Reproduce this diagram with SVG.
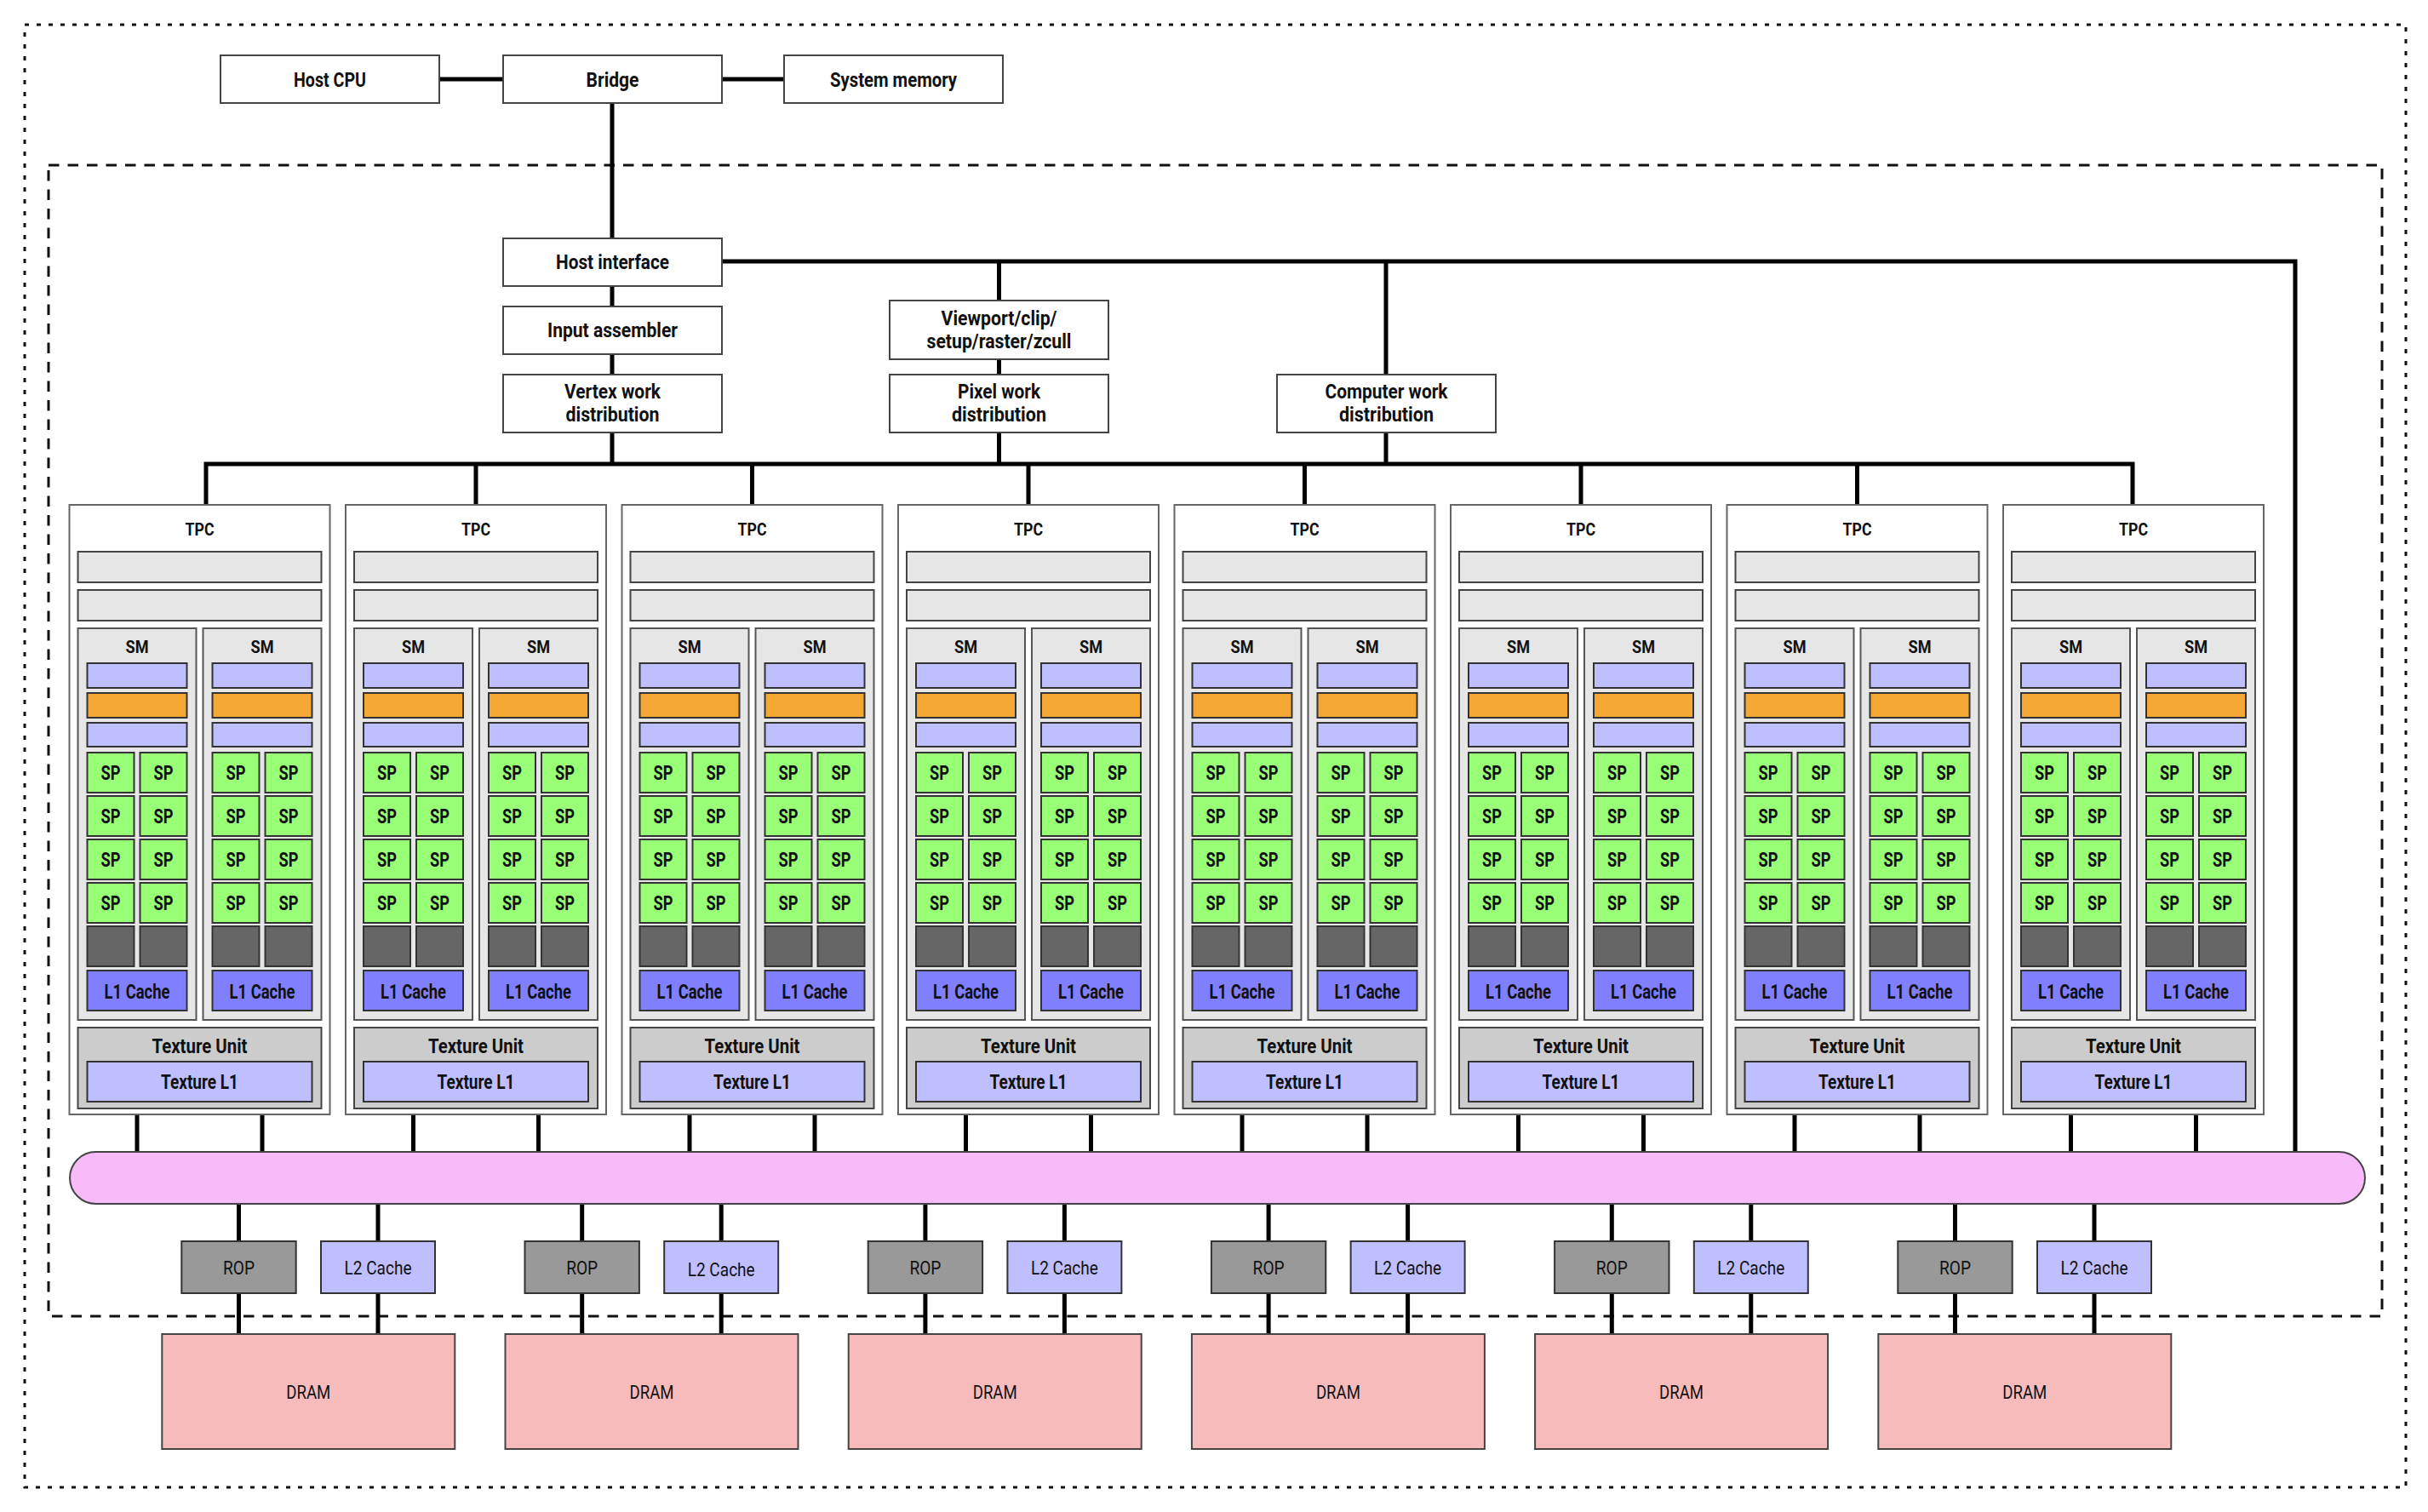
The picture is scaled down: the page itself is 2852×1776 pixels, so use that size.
<svg xmlns="http://www.w3.org/2000/svg" width="2852" height="1776" viewBox="0 0 2852 1776">
<style>
text{font-family:Roboto,"Liberation Sans",sans-serif;text-anchor:middle;fill:#111;font-weight:700}
.t20{font-size:20px}
.t23{font-size:23px}
.t22{font-size:22px;font-weight:400}
.box{fill:#fff;stroke:#444;stroke-width:2}
.tpcbox{fill:#fff;stroke:#666;stroke-width:2}
.bar{fill:#e6e6e6;stroke:#444;stroke-width:2}
.sm{fill:#e6e6e6;stroke:#555;stroke-width:2}
.lav{fill:#bfbfff;stroke:#333;stroke-width:2}
.org{fill:#f5a733;stroke:#333;stroke-width:2}
.sp{fill:#99ff77;stroke:#333;stroke-width:2}
.dk{fill:#666;stroke:#333;stroke-width:2}
.l1{fill:#8080ff;stroke:#333;stroke-width:2}
.tex{fill:#ccc;stroke:#444;stroke-width:2}
.rop{fill:#999;stroke:#333;stroke-width:2}
.dram{fill:#f8bbbb;stroke:#444;stroke-width:2}
.xbar{fill:#f8bbf9;stroke:#444;stroke-width:2}
.con{fill:none;stroke:#000;stroke-width:5;stroke-linejoin:miter}
.outer{fill:none;stroke:#111;stroke-width:3;stroke-dasharray:5 9}
.inner{fill:none;stroke:#111;stroke-width:3;stroke-dasharray:12.5 10}
</style>
<rect width="2852" height="1776" fill="#fff"/>
<rect id="system-boundary" class="outer" x="29" y="29" width="2797" height="1718"/>
<rect id="gpu-boundary" class="inner" x="57" y="194" width="2741" height="1352"/>

<g id="connectors">
<path class="con" d="M516 93H591M848 93H921"/>
<path class="con" d="M719 121V280M719 336V360M719 416V440M719 508V545"/>
<path class="con" d="M848 307H2696V1353"/>
<path class="con" d="M1173.5 307V353M1173.5 422V440M1173.5 508V545"/>
<path class="con" d="M1628 307V440M1628 508V545"/>
<path class="con" d="M242 593V545H2505V593"/>
<path class="con" d="M559 545V593M883.5 545V593M1208 545V593M1532.5 545V593M1857 545V593M2181.5 545V593"/>
<path class="con" d="M161 1309V1353M308 1309V1353M485.5 1309V1353M632.5 1309V1353M810 1309V1353M957 1309V1353M1134.5 1309V1353M1281.5 1309V1353M1459 1309V1353M1606 1309V1353M1783.5 1309V1353M1930.5 1309V1353M2108 1309V1353M2255 1309V1353M2432.5 1309V1353M2579.5 1309V1353"/>
<path class="con" d="M280.5 1414V1567M444 1414V1567M683.7 1414V1567M847.2 1414V1567M1086.9 1414V1567M1250.4 1414V1567M1490.1 1414V1567M1653.6 1414V1567M1893.3 1414V1567M2056.8 1414V1567M2296.5 1414V1567M2460 1414V1567"/>
</g>

<g id="host-cpu"><rect class="box" x="259" y="65" width="257" height="56"/><text class="t23" x="387.5" y="102" textLength="85" lengthAdjust="spacingAndGlyphs">Host CPU</text></g>
<g id="bridge"><rect class="box" x="591" y="65" width="257" height="56"/><text class="t23" x="719.5" y="102" textLength="62" lengthAdjust="spacingAndGlyphs">Bridge</text></g>
<g id="system-memory"><rect class="box" x="921" y="65" width="257" height="56"/><text class="t23" x="1049.5" y="102" textLength="149" lengthAdjust="spacingAndGlyphs">System memory</text></g>
<g id="host-interface"><rect class="box" x="591" y="280" width="257" height="56"/><text class="t23" x="719.5" y="316" textLength="133" lengthAdjust="spacingAndGlyphs">Host interface</text></g>
<g id="input-assembler"><rect class="box" x="591" y="360" width="257" height="56"/><text class="t23" x="719.5" y="396" textLength="153" lengthAdjust="spacingAndGlyphs">Input assembler</text></g>
<g id="vertex-work"><rect class="box" x="591" y="440" width="257" height="68"/><text class="t23" x="719.5" y="468" textLength="113" lengthAdjust="spacingAndGlyphs">Vertex work</text><text class="t23" x="719.5" y="495" textLength="110" lengthAdjust="spacingAndGlyphs">distribution</text></g>
<g id="viewport"><rect class="box" x="1045" y="353" width="257" height="69"/><text class="t23" x="1173.5" y="382" textLength="136" lengthAdjust="spacingAndGlyphs">Viewport/clip/</text><text class="t23" x="1173.5" y="409" textLength="170" lengthAdjust="spacingAndGlyphs">setup/raster/zcull</text></g>
<g id="pixel-work"><rect class="box" x="1045" y="440" width="257" height="68"/><text class="t23" x="1173.5" y="468" textLength="97" lengthAdjust="spacingAndGlyphs">Pixel work</text><text class="t23" x="1173.5" y="495" textLength="111" lengthAdjust="spacingAndGlyphs">distribution</text></g>
<g id="compute-work"><rect class="box" x="1500" y="440" width="257" height="68"/><text class="t23" x="1628.5" y="468" textLength="144" lengthAdjust="spacingAndGlyphs">Computer work</text><text class="t23" x="1628.5" y="495" textLength="111" lengthAdjust="spacingAndGlyphs">distribution</text></g>

<g id="tpc1" transform="translate(81.5 0)">
<rect class="tpcbox" x="0" y="593" width="306" height="716"/>
<text class="t20" x="153" y="628.5" textLength="34" lengthAdjust="spacingAndGlyphs">TPC</text>
<rect class="bar" x="10" y="648" width="286" height="36"/><rect class="bar" x="10" y="693" width="286" height="36"/>
<g id="tpc1-sm1" transform="translate(10 0)">
<rect class="sm" x="0" y="738" width="139" height="460"/><text class="t20" x="69.5" y="767" textLength="27" lengthAdjust="spacingAndGlyphs">SM</text>
<rect class="lav" x="11" y="779" width="117" height="29"/><rect class="org" x="11" y="814" width="117" height="29"/><rect class="lav" x="11" y="849" width="117" height="28"/>
<rect class="sp" x="11" y="884" width="55" height="47"/><rect class="sp" x="73" y="884" width="55" height="47"/><rect class="sp" x="11" y="935" width="55" height="47"/><rect class="sp" x="73" y="935" width="55" height="47"/><rect class="sp" x="11" y="986" width="55" height="47"/><rect class="sp" x="73" y="986" width="55" height="47"/><rect class="sp" x="11" y="1037" width="55" height="47"/><rect class="sp" x="73" y="1037" width="55" height="47"/>
<text class="t23" x="38.5" y="915.5" textLength="23" lengthAdjust="spacingAndGlyphs">SP</text><text class="t23" x="100.5" y="915.5" textLength="23" lengthAdjust="spacingAndGlyphs">SP</text><text class="t23" x="38.5" y="966.5" textLength="23" lengthAdjust="spacingAndGlyphs">SP</text><text class="t23" x="100.5" y="966.5" textLength="23" lengthAdjust="spacingAndGlyphs">SP</text><text class="t23" x="38.5" y="1017.5" textLength="23" lengthAdjust="spacingAndGlyphs">SP</text><text class="t23" x="100.5" y="1017.5" textLength="23" lengthAdjust="spacingAndGlyphs">SP</text><text class="t23" x="38.5" y="1068.5" textLength="23" lengthAdjust="spacingAndGlyphs">SP</text><text class="t23" x="100.5" y="1068.5" textLength="23" lengthAdjust="spacingAndGlyphs">SP</text>
<rect class="dk" x="11" y="1088" width="55" height="47"/><rect class="dk" x="73" y="1088" width="55" height="47"/>
<rect class="l1" x="11" y="1140" width="117" height="47"/><text class="t23" x="69.5" y="1172.5" textLength="77" lengthAdjust="spacingAndGlyphs">L1 Cache</text>
</g>
<g id="tpc1-sm2" transform="translate(157 0)">
<rect class="sm" x="0" y="738" width="139" height="460"/><text class="t20" x="69.5" y="767" textLength="27" lengthAdjust="spacingAndGlyphs">SM</text>
<rect class="lav" x="11" y="779" width="117" height="29"/><rect class="org" x="11" y="814" width="117" height="29"/><rect class="lav" x="11" y="849" width="117" height="28"/>
<rect class="sp" x="11" y="884" width="55" height="47"/><rect class="sp" x="73" y="884" width="55" height="47"/><rect class="sp" x="11" y="935" width="55" height="47"/><rect class="sp" x="73" y="935" width="55" height="47"/><rect class="sp" x="11" y="986" width="55" height="47"/><rect class="sp" x="73" y="986" width="55" height="47"/><rect class="sp" x="11" y="1037" width="55" height="47"/><rect class="sp" x="73" y="1037" width="55" height="47"/>
<text class="t23" x="38.5" y="915.5" textLength="23" lengthAdjust="spacingAndGlyphs">SP</text><text class="t23" x="100.5" y="915.5" textLength="23" lengthAdjust="spacingAndGlyphs">SP</text><text class="t23" x="38.5" y="966.5" textLength="23" lengthAdjust="spacingAndGlyphs">SP</text><text class="t23" x="100.5" y="966.5" textLength="23" lengthAdjust="spacingAndGlyphs">SP</text><text class="t23" x="38.5" y="1017.5" textLength="23" lengthAdjust="spacingAndGlyphs">SP</text><text class="t23" x="100.5" y="1017.5" textLength="23" lengthAdjust="spacingAndGlyphs">SP</text><text class="t23" x="38.5" y="1068.5" textLength="23" lengthAdjust="spacingAndGlyphs">SP</text><text class="t23" x="100.5" y="1068.5" textLength="23" lengthAdjust="spacingAndGlyphs">SP</text>
<rect class="dk" x="11" y="1088" width="55" height="47"/><rect class="dk" x="73" y="1088" width="55" height="47"/>
<rect class="l1" x="11" y="1140" width="117" height="47"/><text class="t23" x="69.5" y="1172.5" textLength="77" lengthAdjust="spacingAndGlyphs">L1 Cache</text>
</g>
<rect class="tex" x="10" y="1207" width="286" height="95"/><text class="t23" x="153" y="1237" textLength="112" lengthAdjust="spacingAndGlyphs">Texture Unit</text>
<rect class="lav" x="21" y="1247" width="264" height="47"/><text class="t23" x="153" y="1278.5" textLength="91" lengthAdjust="spacingAndGlyphs">Texture L1</text>
</g>

<g id="tpc2" transform="translate(406 0)">
<rect class="tpcbox" x="0" y="593" width="306" height="716"/>
<text class="t20" x="153" y="628.5" textLength="34" lengthAdjust="spacingAndGlyphs">TPC</text>
<rect class="bar" x="10" y="648" width="286" height="36"/><rect class="bar" x="10" y="693" width="286" height="36"/>
<g id="tpc2-sm1" transform="translate(10 0)">
<rect class="sm" x="0" y="738" width="139" height="460"/><text class="t20" x="69.5" y="767" textLength="27" lengthAdjust="spacingAndGlyphs">SM</text>
<rect class="lav" x="11" y="779" width="117" height="29"/><rect class="org" x="11" y="814" width="117" height="29"/><rect class="lav" x="11" y="849" width="117" height="28"/>
<rect class="sp" x="11" y="884" width="55" height="47"/><rect class="sp" x="73" y="884" width="55" height="47"/><rect class="sp" x="11" y="935" width="55" height="47"/><rect class="sp" x="73" y="935" width="55" height="47"/><rect class="sp" x="11" y="986" width="55" height="47"/><rect class="sp" x="73" y="986" width="55" height="47"/><rect class="sp" x="11" y="1037" width="55" height="47"/><rect class="sp" x="73" y="1037" width="55" height="47"/>
<text class="t23" x="38.5" y="915.5" textLength="23" lengthAdjust="spacingAndGlyphs">SP</text><text class="t23" x="100.5" y="915.5" textLength="23" lengthAdjust="spacingAndGlyphs">SP</text><text class="t23" x="38.5" y="966.5" textLength="23" lengthAdjust="spacingAndGlyphs">SP</text><text class="t23" x="100.5" y="966.5" textLength="23" lengthAdjust="spacingAndGlyphs">SP</text><text class="t23" x="38.5" y="1017.5" textLength="23" lengthAdjust="spacingAndGlyphs">SP</text><text class="t23" x="100.5" y="1017.5" textLength="23" lengthAdjust="spacingAndGlyphs">SP</text><text class="t23" x="38.5" y="1068.5" textLength="23" lengthAdjust="spacingAndGlyphs">SP</text><text class="t23" x="100.5" y="1068.5" textLength="23" lengthAdjust="spacingAndGlyphs">SP</text>
<rect class="dk" x="11" y="1088" width="55" height="47"/><rect class="dk" x="73" y="1088" width="55" height="47"/>
<rect class="l1" x="11" y="1140" width="117" height="47"/><text class="t23" x="69.5" y="1172.5" textLength="77" lengthAdjust="spacingAndGlyphs">L1 Cache</text>
</g>
<g id="tpc2-sm2" transform="translate(157 0)">
<rect class="sm" x="0" y="738" width="139" height="460"/><text class="t20" x="69.5" y="767" textLength="27" lengthAdjust="spacingAndGlyphs">SM</text>
<rect class="lav" x="11" y="779" width="117" height="29"/><rect class="org" x="11" y="814" width="117" height="29"/><rect class="lav" x="11" y="849" width="117" height="28"/>
<rect class="sp" x="11" y="884" width="55" height="47"/><rect class="sp" x="73" y="884" width="55" height="47"/><rect class="sp" x="11" y="935" width="55" height="47"/><rect class="sp" x="73" y="935" width="55" height="47"/><rect class="sp" x="11" y="986" width="55" height="47"/><rect class="sp" x="73" y="986" width="55" height="47"/><rect class="sp" x="11" y="1037" width="55" height="47"/><rect class="sp" x="73" y="1037" width="55" height="47"/>
<text class="t23" x="38.5" y="915.5" textLength="23" lengthAdjust="spacingAndGlyphs">SP</text><text class="t23" x="100.5" y="915.5" textLength="23" lengthAdjust="spacingAndGlyphs">SP</text><text class="t23" x="38.5" y="966.5" textLength="23" lengthAdjust="spacingAndGlyphs">SP</text><text class="t23" x="100.5" y="966.5" textLength="23" lengthAdjust="spacingAndGlyphs">SP</text><text class="t23" x="38.5" y="1017.5" textLength="23" lengthAdjust="spacingAndGlyphs">SP</text><text class="t23" x="100.5" y="1017.5" textLength="23" lengthAdjust="spacingAndGlyphs">SP</text><text class="t23" x="38.5" y="1068.5" textLength="23" lengthAdjust="spacingAndGlyphs">SP</text><text class="t23" x="100.5" y="1068.5" textLength="23" lengthAdjust="spacingAndGlyphs">SP</text>
<rect class="dk" x="11" y="1088" width="55" height="47"/><rect class="dk" x="73" y="1088" width="55" height="47"/>
<rect class="l1" x="11" y="1140" width="117" height="47"/><text class="t23" x="69.5" y="1172.5" textLength="77" lengthAdjust="spacingAndGlyphs">L1 Cache</text>
</g>
<rect class="tex" x="10" y="1207" width="286" height="95"/><text class="t23" x="153" y="1237" textLength="112" lengthAdjust="spacingAndGlyphs">Texture Unit</text>
<rect class="lav" x="21" y="1247" width="264" height="47"/><text class="t23" x="153" y="1278.5" textLength="91" lengthAdjust="spacingAndGlyphs">Texture L1</text>
</g>

<g id="tpc3" transform="translate(730.5 0)">
<rect class="tpcbox" x="0" y="593" width="306" height="716"/>
<text class="t20" x="153" y="628.5" textLength="34" lengthAdjust="spacingAndGlyphs">TPC</text>
<rect class="bar" x="10" y="648" width="286" height="36"/><rect class="bar" x="10" y="693" width="286" height="36"/>
<g id="tpc3-sm1" transform="translate(10 0)">
<rect class="sm" x="0" y="738" width="139" height="460"/><text class="t20" x="69.5" y="767" textLength="27" lengthAdjust="spacingAndGlyphs">SM</text>
<rect class="lav" x="11" y="779" width="117" height="29"/><rect class="org" x="11" y="814" width="117" height="29"/><rect class="lav" x="11" y="849" width="117" height="28"/>
<rect class="sp" x="11" y="884" width="55" height="47"/><rect class="sp" x="73" y="884" width="55" height="47"/><rect class="sp" x="11" y="935" width="55" height="47"/><rect class="sp" x="73" y="935" width="55" height="47"/><rect class="sp" x="11" y="986" width="55" height="47"/><rect class="sp" x="73" y="986" width="55" height="47"/><rect class="sp" x="11" y="1037" width="55" height="47"/><rect class="sp" x="73" y="1037" width="55" height="47"/>
<text class="t23" x="38.5" y="915.5" textLength="23" lengthAdjust="spacingAndGlyphs">SP</text><text class="t23" x="100.5" y="915.5" textLength="23" lengthAdjust="spacingAndGlyphs">SP</text><text class="t23" x="38.5" y="966.5" textLength="23" lengthAdjust="spacingAndGlyphs">SP</text><text class="t23" x="100.5" y="966.5" textLength="23" lengthAdjust="spacingAndGlyphs">SP</text><text class="t23" x="38.5" y="1017.5" textLength="23" lengthAdjust="spacingAndGlyphs">SP</text><text class="t23" x="100.5" y="1017.5" textLength="23" lengthAdjust="spacingAndGlyphs">SP</text><text class="t23" x="38.5" y="1068.5" textLength="23" lengthAdjust="spacingAndGlyphs">SP</text><text class="t23" x="100.5" y="1068.5" textLength="23" lengthAdjust="spacingAndGlyphs">SP</text>
<rect class="dk" x="11" y="1088" width="55" height="47"/><rect class="dk" x="73" y="1088" width="55" height="47"/>
<rect class="l1" x="11" y="1140" width="117" height="47"/><text class="t23" x="69.5" y="1172.5" textLength="77" lengthAdjust="spacingAndGlyphs">L1 Cache</text>
</g>
<g id="tpc3-sm2" transform="translate(157 0)">
<rect class="sm" x="0" y="738" width="139" height="460"/><text class="t20" x="69.5" y="767" textLength="27" lengthAdjust="spacingAndGlyphs">SM</text>
<rect class="lav" x="11" y="779" width="117" height="29"/><rect class="org" x="11" y="814" width="117" height="29"/><rect class="lav" x="11" y="849" width="117" height="28"/>
<rect class="sp" x="11" y="884" width="55" height="47"/><rect class="sp" x="73" y="884" width="55" height="47"/><rect class="sp" x="11" y="935" width="55" height="47"/><rect class="sp" x="73" y="935" width="55" height="47"/><rect class="sp" x="11" y="986" width="55" height="47"/><rect class="sp" x="73" y="986" width="55" height="47"/><rect class="sp" x="11" y="1037" width="55" height="47"/><rect class="sp" x="73" y="1037" width="55" height="47"/>
<text class="t23" x="38.5" y="915.5" textLength="23" lengthAdjust="spacingAndGlyphs">SP</text><text class="t23" x="100.5" y="915.5" textLength="23" lengthAdjust="spacingAndGlyphs">SP</text><text class="t23" x="38.5" y="966.5" textLength="23" lengthAdjust="spacingAndGlyphs">SP</text><text class="t23" x="100.5" y="966.5" textLength="23" lengthAdjust="spacingAndGlyphs">SP</text><text class="t23" x="38.5" y="1017.5" textLength="23" lengthAdjust="spacingAndGlyphs">SP</text><text class="t23" x="100.5" y="1017.5" textLength="23" lengthAdjust="spacingAndGlyphs">SP</text><text class="t23" x="38.5" y="1068.5" textLength="23" lengthAdjust="spacingAndGlyphs">SP</text><text class="t23" x="100.5" y="1068.5" textLength="23" lengthAdjust="spacingAndGlyphs">SP</text>
<rect class="dk" x="11" y="1088" width="55" height="47"/><rect class="dk" x="73" y="1088" width="55" height="47"/>
<rect class="l1" x="11" y="1140" width="117" height="47"/><text class="t23" x="69.5" y="1172.5" textLength="77" lengthAdjust="spacingAndGlyphs">L1 Cache</text>
</g>
<rect class="tex" x="10" y="1207" width="286" height="95"/><text class="t23" x="153" y="1237" textLength="112" lengthAdjust="spacingAndGlyphs">Texture Unit</text>
<rect class="lav" x="21" y="1247" width="264" height="47"/><text class="t23" x="153" y="1278.5" textLength="91" lengthAdjust="spacingAndGlyphs">Texture L1</text>
</g>

<g id="tpc4" transform="translate(1055 0)">
<rect class="tpcbox" x="0" y="593" width="306" height="716"/>
<text class="t20" x="153" y="628.5" textLength="34" lengthAdjust="spacingAndGlyphs">TPC</text>
<rect class="bar" x="10" y="648" width="286" height="36"/><rect class="bar" x="10" y="693" width="286" height="36"/>
<g id="tpc4-sm1" transform="translate(10 0)">
<rect class="sm" x="0" y="738" width="139" height="460"/><text class="t20" x="69.5" y="767" textLength="27" lengthAdjust="spacingAndGlyphs">SM</text>
<rect class="lav" x="11" y="779" width="117" height="29"/><rect class="org" x="11" y="814" width="117" height="29"/><rect class="lav" x="11" y="849" width="117" height="28"/>
<rect class="sp" x="11" y="884" width="55" height="47"/><rect class="sp" x="73" y="884" width="55" height="47"/><rect class="sp" x="11" y="935" width="55" height="47"/><rect class="sp" x="73" y="935" width="55" height="47"/><rect class="sp" x="11" y="986" width="55" height="47"/><rect class="sp" x="73" y="986" width="55" height="47"/><rect class="sp" x="11" y="1037" width="55" height="47"/><rect class="sp" x="73" y="1037" width="55" height="47"/>
<text class="t23" x="38.5" y="915.5" textLength="23" lengthAdjust="spacingAndGlyphs">SP</text><text class="t23" x="100.5" y="915.5" textLength="23" lengthAdjust="spacingAndGlyphs">SP</text><text class="t23" x="38.5" y="966.5" textLength="23" lengthAdjust="spacingAndGlyphs">SP</text><text class="t23" x="100.5" y="966.5" textLength="23" lengthAdjust="spacingAndGlyphs">SP</text><text class="t23" x="38.5" y="1017.5" textLength="23" lengthAdjust="spacingAndGlyphs">SP</text><text class="t23" x="100.5" y="1017.5" textLength="23" lengthAdjust="spacingAndGlyphs">SP</text><text class="t23" x="38.5" y="1068.5" textLength="23" lengthAdjust="spacingAndGlyphs">SP</text><text class="t23" x="100.5" y="1068.5" textLength="23" lengthAdjust="spacingAndGlyphs">SP</text>
<rect class="dk" x="11" y="1088" width="55" height="47"/><rect class="dk" x="73" y="1088" width="55" height="47"/>
<rect class="l1" x="11" y="1140" width="117" height="47"/><text class="t23" x="69.5" y="1172.5" textLength="77" lengthAdjust="spacingAndGlyphs">L1 Cache</text>
</g>
<g id="tpc4-sm2" transform="translate(157 0)">
<rect class="sm" x="0" y="738" width="139" height="460"/><text class="t20" x="69.5" y="767" textLength="27" lengthAdjust="spacingAndGlyphs">SM</text>
<rect class="lav" x="11" y="779" width="117" height="29"/><rect class="org" x="11" y="814" width="117" height="29"/><rect class="lav" x="11" y="849" width="117" height="28"/>
<rect class="sp" x="11" y="884" width="55" height="47"/><rect class="sp" x="73" y="884" width="55" height="47"/><rect class="sp" x="11" y="935" width="55" height="47"/><rect class="sp" x="73" y="935" width="55" height="47"/><rect class="sp" x="11" y="986" width="55" height="47"/><rect class="sp" x="73" y="986" width="55" height="47"/><rect class="sp" x="11" y="1037" width="55" height="47"/><rect class="sp" x="73" y="1037" width="55" height="47"/>
<text class="t23" x="38.5" y="915.5" textLength="23" lengthAdjust="spacingAndGlyphs">SP</text><text class="t23" x="100.5" y="915.5" textLength="23" lengthAdjust="spacingAndGlyphs">SP</text><text class="t23" x="38.5" y="966.5" textLength="23" lengthAdjust="spacingAndGlyphs">SP</text><text class="t23" x="100.5" y="966.5" textLength="23" lengthAdjust="spacingAndGlyphs">SP</text><text class="t23" x="38.5" y="1017.5" textLength="23" lengthAdjust="spacingAndGlyphs">SP</text><text class="t23" x="100.5" y="1017.5" textLength="23" lengthAdjust="spacingAndGlyphs">SP</text><text class="t23" x="38.5" y="1068.5" textLength="23" lengthAdjust="spacingAndGlyphs">SP</text><text class="t23" x="100.5" y="1068.5" textLength="23" lengthAdjust="spacingAndGlyphs">SP</text>
<rect class="dk" x="11" y="1088" width="55" height="47"/><rect class="dk" x="73" y="1088" width="55" height="47"/>
<rect class="l1" x="11" y="1140" width="117" height="47"/><text class="t23" x="69.5" y="1172.5" textLength="77" lengthAdjust="spacingAndGlyphs">L1 Cache</text>
</g>
<rect class="tex" x="10" y="1207" width="286" height="95"/><text class="t23" x="153" y="1237" textLength="112" lengthAdjust="spacingAndGlyphs">Texture Unit</text>
<rect class="lav" x="21" y="1247" width="264" height="47"/><text class="t23" x="153" y="1278.5" textLength="91" lengthAdjust="spacingAndGlyphs">Texture L1</text>
</g>

<g id="tpc5" transform="translate(1379.5 0)">
<rect class="tpcbox" x="0" y="593" width="306" height="716"/>
<text class="t20" x="153" y="628.5" textLength="34" lengthAdjust="spacingAndGlyphs">TPC</text>
<rect class="bar" x="10" y="648" width="286" height="36"/><rect class="bar" x="10" y="693" width="286" height="36"/>
<g id="tpc5-sm1" transform="translate(10 0)">
<rect class="sm" x="0" y="738" width="139" height="460"/><text class="t20" x="69.5" y="767" textLength="27" lengthAdjust="spacingAndGlyphs">SM</text>
<rect class="lav" x="11" y="779" width="117" height="29"/><rect class="org" x="11" y="814" width="117" height="29"/><rect class="lav" x="11" y="849" width="117" height="28"/>
<rect class="sp" x="11" y="884" width="55" height="47"/><rect class="sp" x="73" y="884" width="55" height="47"/><rect class="sp" x="11" y="935" width="55" height="47"/><rect class="sp" x="73" y="935" width="55" height="47"/><rect class="sp" x="11" y="986" width="55" height="47"/><rect class="sp" x="73" y="986" width="55" height="47"/><rect class="sp" x="11" y="1037" width="55" height="47"/><rect class="sp" x="73" y="1037" width="55" height="47"/>
<text class="t23" x="38.5" y="915.5" textLength="23" lengthAdjust="spacingAndGlyphs">SP</text><text class="t23" x="100.5" y="915.5" textLength="23" lengthAdjust="spacingAndGlyphs">SP</text><text class="t23" x="38.5" y="966.5" textLength="23" lengthAdjust="spacingAndGlyphs">SP</text><text class="t23" x="100.5" y="966.5" textLength="23" lengthAdjust="spacingAndGlyphs">SP</text><text class="t23" x="38.5" y="1017.5" textLength="23" lengthAdjust="spacingAndGlyphs">SP</text><text class="t23" x="100.5" y="1017.5" textLength="23" lengthAdjust="spacingAndGlyphs">SP</text><text class="t23" x="38.5" y="1068.5" textLength="23" lengthAdjust="spacingAndGlyphs">SP</text><text class="t23" x="100.5" y="1068.5" textLength="23" lengthAdjust="spacingAndGlyphs">SP</text>
<rect class="dk" x="11" y="1088" width="55" height="47"/><rect class="dk" x="73" y="1088" width="55" height="47"/>
<rect class="l1" x="11" y="1140" width="117" height="47"/><text class="t23" x="69.5" y="1172.5" textLength="77" lengthAdjust="spacingAndGlyphs">L1 Cache</text>
</g>
<g id="tpc5-sm2" transform="translate(157 0)">
<rect class="sm" x="0" y="738" width="139" height="460"/><text class="t20" x="69.5" y="767" textLength="27" lengthAdjust="spacingAndGlyphs">SM</text>
<rect class="lav" x="11" y="779" width="117" height="29"/><rect class="org" x="11" y="814" width="117" height="29"/><rect class="lav" x="11" y="849" width="117" height="28"/>
<rect class="sp" x="11" y="884" width="55" height="47"/><rect class="sp" x="73" y="884" width="55" height="47"/><rect class="sp" x="11" y="935" width="55" height="47"/><rect class="sp" x="73" y="935" width="55" height="47"/><rect class="sp" x="11" y="986" width="55" height="47"/><rect class="sp" x="73" y="986" width="55" height="47"/><rect class="sp" x="11" y="1037" width="55" height="47"/><rect class="sp" x="73" y="1037" width="55" height="47"/>
<text class="t23" x="38.5" y="915.5" textLength="23" lengthAdjust="spacingAndGlyphs">SP</text><text class="t23" x="100.5" y="915.5" textLength="23" lengthAdjust="spacingAndGlyphs">SP</text><text class="t23" x="38.5" y="966.5" textLength="23" lengthAdjust="spacingAndGlyphs">SP</text><text class="t23" x="100.5" y="966.5" textLength="23" lengthAdjust="spacingAndGlyphs">SP</text><text class="t23" x="38.5" y="1017.5" textLength="23" lengthAdjust="spacingAndGlyphs">SP</text><text class="t23" x="100.5" y="1017.5" textLength="23" lengthAdjust="spacingAndGlyphs">SP</text><text class="t23" x="38.5" y="1068.5" textLength="23" lengthAdjust="spacingAndGlyphs">SP</text><text class="t23" x="100.5" y="1068.5" textLength="23" lengthAdjust="spacingAndGlyphs">SP</text>
<rect class="dk" x="11" y="1088" width="55" height="47"/><rect class="dk" x="73" y="1088" width="55" height="47"/>
<rect class="l1" x="11" y="1140" width="117" height="47"/><text class="t23" x="69.5" y="1172.5" textLength="77" lengthAdjust="spacingAndGlyphs">L1 Cache</text>
</g>
<rect class="tex" x="10" y="1207" width="286" height="95"/><text class="t23" x="153" y="1237" textLength="112" lengthAdjust="spacingAndGlyphs">Texture Unit</text>
<rect class="lav" x="21" y="1247" width="264" height="47"/><text class="t23" x="153" y="1278.5" textLength="91" lengthAdjust="spacingAndGlyphs">Texture L1</text>
</g>

<g id="tpc6" transform="translate(1704 0)">
<rect class="tpcbox" x="0" y="593" width="306" height="716"/>
<text class="t20" x="153" y="628.5" textLength="34" lengthAdjust="spacingAndGlyphs">TPC</text>
<rect class="bar" x="10" y="648" width="286" height="36"/><rect class="bar" x="10" y="693" width="286" height="36"/>
<g id="tpc6-sm1" transform="translate(10 0)">
<rect class="sm" x="0" y="738" width="139" height="460"/><text class="t20" x="69.5" y="767" textLength="27" lengthAdjust="spacingAndGlyphs">SM</text>
<rect class="lav" x="11" y="779" width="117" height="29"/><rect class="org" x="11" y="814" width="117" height="29"/><rect class="lav" x="11" y="849" width="117" height="28"/>
<rect class="sp" x="11" y="884" width="55" height="47"/><rect class="sp" x="73" y="884" width="55" height="47"/><rect class="sp" x="11" y="935" width="55" height="47"/><rect class="sp" x="73" y="935" width="55" height="47"/><rect class="sp" x="11" y="986" width="55" height="47"/><rect class="sp" x="73" y="986" width="55" height="47"/><rect class="sp" x="11" y="1037" width="55" height="47"/><rect class="sp" x="73" y="1037" width="55" height="47"/>
<text class="t23" x="38.5" y="915.5" textLength="23" lengthAdjust="spacingAndGlyphs">SP</text><text class="t23" x="100.5" y="915.5" textLength="23" lengthAdjust="spacingAndGlyphs">SP</text><text class="t23" x="38.5" y="966.5" textLength="23" lengthAdjust="spacingAndGlyphs">SP</text><text class="t23" x="100.5" y="966.5" textLength="23" lengthAdjust="spacingAndGlyphs">SP</text><text class="t23" x="38.5" y="1017.5" textLength="23" lengthAdjust="spacingAndGlyphs">SP</text><text class="t23" x="100.5" y="1017.5" textLength="23" lengthAdjust="spacingAndGlyphs">SP</text><text class="t23" x="38.5" y="1068.5" textLength="23" lengthAdjust="spacingAndGlyphs">SP</text><text class="t23" x="100.5" y="1068.5" textLength="23" lengthAdjust="spacingAndGlyphs">SP</text>
<rect class="dk" x="11" y="1088" width="55" height="47"/><rect class="dk" x="73" y="1088" width="55" height="47"/>
<rect class="l1" x="11" y="1140" width="117" height="47"/><text class="t23" x="69.5" y="1172.5" textLength="77" lengthAdjust="spacingAndGlyphs">L1 Cache</text>
</g>
<g id="tpc6-sm2" transform="translate(157 0)">
<rect class="sm" x="0" y="738" width="139" height="460"/><text class="t20" x="69.5" y="767" textLength="27" lengthAdjust="spacingAndGlyphs">SM</text>
<rect class="lav" x="11" y="779" width="117" height="29"/><rect class="org" x="11" y="814" width="117" height="29"/><rect class="lav" x="11" y="849" width="117" height="28"/>
<rect class="sp" x="11" y="884" width="55" height="47"/><rect class="sp" x="73" y="884" width="55" height="47"/><rect class="sp" x="11" y="935" width="55" height="47"/><rect class="sp" x="73" y="935" width="55" height="47"/><rect class="sp" x="11" y="986" width="55" height="47"/><rect class="sp" x="73" y="986" width="55" height="47"/><rect class="sp" x="11" y="1037" width="55" height="47"/><rect class="sp" x="73" y="1037" width="55" height="47"/>
<text class="t23" x="38.5" y="915.5" textLength="23" lengthAdjust="spacingAndGlyphs">SP</text><text class="t23" x="100.5" y="915.5" textLength="23" lengthAdjust="spacingAndGlyphs">SP</text><text class="t23" x="38.5" y="966.5" textLength="23" lengthAdjust="spacingAndGlyphs">SP</text><text class="t23" x="100.5" y="966.5" textLength="23" lengthAdjust="spacingAndGlyphs">SP</text><text class="t23" x="38.5" y="1017.5" textLength="23" lengthAdjust="spacingAndGlyphs">SP</text><text class="t23" x="100.5" y="1017.5" textLength="23" lengthAdjust="spacingAndGlyphs">SP</text><text class="t23" x="38.5" y="1068.5" textLength="23" lengthAdjust="spacingAndGlyphs">SP</text><text class="t23" x="100.5" y="1068.5" textLength="23" lengthAdjust="spacingAndGlyphs">SP</text>
<rect class="dk" x="11" y="1088" width="55" height="47"/><rect class="dk" x="73" y="1088" width="55" height="47"/>
<rect class="l1" x="11" y="1140" width="117" height="47"/><text class="t23" x="69.5" y="1172.5" textLength="77" lengthAdjust="spacingAndGlyphs">L1 Cache</text>
</g>
<rect class="tex" x="10" y="1207" width="286" height="95"/><text class="t23" x="153" y="1237" textLength="112" lengthAdjust="spacingAndGlyphs">Texture Unit</text>
<rect class="lav" x="21" y="1247" width="264" height="47"/><text class="t23" x="153" y="1278.5" textLength="91" lengthAdjust="spacingAndGlyphs">Texture L1</text>
</g>

<g id="tpc7" transform="translate(2028.5 0)">
<rect class="tpcbox" x="0" y="593" width="306" height="716"/>
<text class="t20" x="153" y="628.5" textLength="34" lengthAdjust="spacingAndGlyphs">TPC</text>
<rect class="bar" x="10" y="648" width="286" height="36"/><rect class="bar" x="10" y="693" width="286" height="36"/>
<g id="tpc7-sm1" transform="translate(10 0)">
<rect class="sm" x="0" y="738" width="139" height="460"/><text class="t20" x="69.5" y="767" textLength="27" lengthAdjust="spacingAndGlyphs">SM</text>
<rect class="lav" x="11" y="779" width="117" height="29"/><rect class="org" x="11" y="814" width="117" height="29"/><rect class="lav" x="11" y="849" width="117" height="28"/>
<rect class="sp" x="11" y="884" width="55" height="47"/><rect class="sp" x="73" y="884" width="55" height="47"/><rect class="sp" x="11" y="935" width="55" height="47"/><rect class="sp" x="73" y="935" width="55" height="47"/><rect class="sp" x="11" y="986" width="55" height="47"/><rect class="sp" x="73" y="986" width="55" height="47"/><rect class="sp" x="11" y="1037" width="55" height="47"/><rect class="sp" x="73" y="1037" width="55" height="47"/>
<text class="t23" x="38.5" y="915.5" textLength="23" lengthAdjust="spacingAndGlyphs">SP</text><text class="t23" x="100.5" y="915.5" textLength="23" lengthAdjust="spacingAndGlyphs">SP</text><text class="t23" x="38.5" y="966.5" textLength="23" lengthAdjust="spacingAndGlyphs">SP</text><text class="t23" x="100.5" y="966.5" textLength="23" lengthAdjust="spacingAndGlyphs">SP</text><text class="t23" x="38.5" y="1017.5" textLength="23" lengthAdjust="spacingAndGlyphs">SP</text><text class="t23" x="100.5" y="1017.5" textLength="23" lengthAdjust="spacingAndGlyphs">SP</text><text class="t23" x="38.5" y="1068.5" textLength="23" lengthAdjust="spacingAndGlyphs">SP</text><text class="t23" x="100.5" y="1068.5" textLength="23" lengthAdjust="spacingAndGlyphs">SP</text>
<rect class="dk" x="11" y="1088" width="55" height="47"/><rect class="dk" x="73" y="1088" width="55" height="47"/>
<rect class="l1" x="11" y="1140" width="117" height="47"/><text class="t23" x="69.5" y="1172.5" textLength="77" lengthAdjust="spacingAndGlyphs">L1 Cache</text>
</g>
<g id="tpc7-sm2" transform="translate(157 0)">
<rect class="sm" x="0" y="738" width="139" height="460"/><text class="t20" x="69.5" y="767" textLength="27" lengthAdjust="spacingAndGlyphs">SM</text>
<rect class="lav" x="11" y="779" width="117" height="29"/><rect class="org" x="11" y="814" width="117" height="29"/><rect class="lav" x="11" y="849" width="117" height="28"/>
<rect class="sp" x="11" y="884" width="55" height="47"/><rect class="sp" x="73" y="884" width="55" height="47"/><rect class="sp" x="11" y="935" width="55" height="47"/><rect class="sp" x="73" y="935" width="55" height="47"/><rect class="sp" x="11" y="986" width="55" height="47"/><rect class="sp" x="73" y="986" width="55" height="47"/><rect class="sp" x="11" y="1037" width="55" height="47"/><rect class="sp" x="73" y="1037" width="55" height="47"/>
<text class="t23" x="38.5" y="915.5" textLength="23" lengthAdjust="spacingAndGlyphs">SP</text><text class="t23" x="100.5" y="915.5" textLength="23" lengthAdjust="spacingAndGlyphs">SP</text><text class="t23" x="38.5" y="966.5" textLength="23" lengthAdjust="spacingAndGlyphs">SP</text><text class="t23" x="100.5" y="966.5" textLength="23" lengthAdjust="spacingAndGlyphs">SP</text><text class="t23" x="38.5" y="1017.5" textLength="23" lengthAdjust="spacingAndGlyphs">SP</text><text class="t23" x="100.5" y="1017.5" textLength="23" lengthAdjust="spacingAndGlyphs">SP</text><text class="t23" x="38.5" y="1068.5" textLength="23" lengthAdjust="spacingAndGlyphs">SP</text><text class="t23" x="100.5" y="1068.5" textLength="23" lengthAdjust="spacingAndGlyphs">SP</text>
<rect class="dk" x="11" y="1088" width="55" height="47"/><rect class="dk" x="73" y="1088" width="55" height="47"/>
<rect class="l1" x="11" y="1140" width="117" height="47"/><text class="t23" x="69.5" y="1172.5" textLength="77" lengthAdjust="spacingAndGlyphs">L1 Cache</text>
</g>
<rect class="tex" x="10" y="1207" width="286" height="95"/><text class="t23" x="153" y="1237" textLength="112" lengthAdjust="spacingAndGlyphs">Texture Unit</text>
<rect class="lav" x="21" y="1247" width="264" height="47"/><text class="t23" x="153" y="1278.5" textLength="91" lengthAdjust="spacingAndGlyphs">Texture L1</text>
</g>

<g id="tpc8" transform="translate(2353 0)">
<rect class="tpcbox" x="0" y="593" width="306" height="716"/>
<text class="t20" x="153" y="628.5" textLength="34" lengthAdjust="spacingAndGlyphs">TPC</text>
<rect class="bar" x="10" y="648" width="286" height="36"/><rect class="bar" x="10" y="693" width="286" height="36"/>
<g id="tpc8-sm1" transform="translate(10 0)">
<rect class="sm" x="0" y="738" width="139" height="460"/><text class="t20" x="69.5" y="767" textLength="27" lengthAdjust="spacingAndGlyphs">SM</text>
<rect class="lav" x="11" y="779" width="117" height="29"/><rect class="org" x="11" y="814" width="117" height="29"/><rect class="lav" x="11" y="849" width="117" height="28"/>
<rect class="sp" x="11" y="884" width="55" height="47"/><rect class="sp" x="73" y="884" width="55" height="47"/><rect class="sp" x="11" y="935" width="55" height="47"/><rect class="sp" x="73" y="935" width="55" height="47"/><rect class="sp" x="11" y="986" width="55" height="47"/><rect class="sp" x="73" y="986" width="55" height="47"/><rect class="sp" x="11" y="1037" width="55" height="47"/><rect class="sp" x="73" y="1037" width="55" height="47"/>
<text class="t23" x="38.5" y="915.5" textLength="23" lengthAdjust="spacingAndGlyphs">SP</text><text class="t23" x="100.5" y="915.5" textLength="23" lengthAdjust="spacingAndGlyphs">SP</text><text class="t23" x="38.5" y="966.5" textLength="23" lengthAdjust="spacingAndGlyphs">SP</text><text class="t23" x="100.5" y="966.5" textLength="23" lengthAdjust="spacingAndGlyphs">SP</text><text class="t23" x="38.5" y="1017.5" textLength="23" lengthAdjust="spacingAndGlyphs">SP</text><text class="t23" x="100.5" y="1017.5" textLength="23" lengthAdjust="spacingAndGlyphs">SP</text><text class="t23" x="38.5" y="1068.5" textLength="23" lengthAdjust="spacingAndGlyphs">SP</text><text class="t23" x="100.5" y="1068.5" textLength="23" lengthAdjust="spacingAndGlyphs">SP</text>
<rect class="dk" x="11" y="1088" width="55" height="47"/><rect class="dk" x="73" y="1088" width="55" height="47"/>
<rect class="l1" x="11" y="1140" width="117" height="47"/><text class="t23" x="69.5" y="1172.5" textLength="77" lengthAdjust="spacingAndGlyphs">L1 Cache</text>
</g>
<g id="tpc8-sm2" transform="translate(157 0)">
<rect class="sm" x="0" y="738" width="139" height="460"/><text class="t20" x="69.5" y="767" textLength="27" lengthAdjust="spacingAndGlyphs">SM</text>
<rect class="lav" x="11" y="779" width="117" height="29"/><rect class="org" x="11" y="814" width="117" height="29"/><rect class="lav" x="11" y="849" width="117" height="28"/>
<rect class="sp" x="11" y="884" width="55" height="47"/><rect class="sp" x="73" y="884" width="55" height="47"/><rect class="sp" x="11" y="935" width="55" height="47"/><rect class="sp" x="73" y="935" width="55" height="47"/><rect class="sp" x="11" y="986" width="55" height="47"/><rect class="sp" x="73" y="986" width="55" height="47"/><rect class="sp" x="11" y="1037" width="55" height="47"/><rect class="sp" x="73" y="1037" width="55" height="47"/>
<text class="t23" x="38.5" y="915.5" textLength="23" lengthAdjust="spacingAndGlyphs">SP</text><text class="t23" x="100.5" y="915.5" textLength="23" lengthAdjust="spacingAndGlyphs">SP</text><text class="t23" x="38.5" y="966.5" textLength="23" lengthAdjust="spacingAndGlyphs">SP</text><text class="t23" x="100.5" y="966.5" textLength="23" lengthAdjust="spacingAndGlyphs">SP</text><text class="t23" x="38.5" y="1017.5" textLength="23" lengthAdjust="spacingAndGlyphs">SP</text><text class="t23" x="100.5" y="1017.5" textLength="23" lengthAdjust="spacingAndGlyphs">SP</text><text class="t23" x="38.5" y="1068.5" textLength="23" lengthAdjust="spacingAndGlyphs">SP</text><text class="t23" x="100.5" y="1068.5" textLength="23" lengthAdjust="spacingAndGlyphs">SP</text>
<rect class="dk" x="11" y="1088" width="55" height="47"/><rect class="dk" x="73" y="1088" width="55" height="47"/>
<rect class="l1" x="11" y="1140" width="117" height="47"/><text class="t23" x="69.5" y="1172.5" textLength="77" lengthAdjust="spacingAndGlyphs">L1 Cache</text>
</g>
<rect class="tex" x="10" y="1207" width="286" height="95"/><text class="t23" x="153" y="1237" textLength="112" lengthAdjust="spacingAndGlyphs">Texture Unit</text>
<rect class="lav" x="21" y="1247" width="264" height="47"/><text class="t23" x="153" y="1278.5" textLength="91" lengthAdjust="spacingAndGlyphs">Texture L1</text>
</g>

<g id="interconnect"><rect class="xbar" x="82" y="1353" width="2696" height="61" rx="30.5" ry="30.5"/></g>

<g id="rop1"><rect class="rop" x="213.3" y="1458" width="134.4" height="61"/><text class="t22" x="280.5" y="1497" textLength="37" lengthAdjust="spacingAndGlyphs">ROP</text></g>
<g id="l2-1"><rect class="lav" x="377" y="1458" width="134" height="61"/><text class="t22" x="444" y="1497" textLength="79" lengthAdjust="spacingAndGlyphs">L2 Cache</text></g>
<g id="rop2"><rect class="rop" x="616.5" y="1458" width="134.4" height="61"/><text class="t22" x="683.7" y="1497" textLength="37" lengthAdjust="spacingAndGlyphs">ROP</text></g>
<g id="l2-2"><rect class="lav" x="780.2" y="1458" width="134" height="61"/><text class="t22" x="847.2" y="1499" textLength="79" lengthAdjust="spacingAndGlyphs">L2 Cache</text></g>
<g id="rop3"><rect class="rop" x="1019.7" y="1458" width="134.4" height="61"/><text class="t22" x="1086.9" y="1497" textLength="37" lengthAdjust="spacingAndGlyphs">ROP</text></g>
<g id="l2-3"><rect class="lav" x="1183.4" y="1458" width="134" height="61"/><text class="t22" x="1250.4" y="1497" textLength="79" lengthAdjust="spacingAndGlyphs">L2 Cache</text></g>
<g id="rop4"><rect class="rop" x="1422.9" y="1458" width="134.4" height="61"/><text class="t22" x="1490.1" y="1497" textLength="37" lengthAdjust="spacingAndGlyphs">ROP</text></g>
<g id="l2-4"><rect class="lav" x="1586.6" y="1458" width="134" height="61"/><text class="t22" x="1653.6" y="1497" textLength="79" lengthAdjust="spacingAndGlyphs">L2 Cache</text></g>
<g id="rop5"><rect class="rop" x="1826.1" y="1458" width="134.4" height="61"/><text class="t22" x="1893.3" y="1497" textLength="37" lengthAdjust="spacingAndGlyphs">ROP</text></g>
<g id="l2-5"><rect class="lav" x="1989.8" y="1458" width="134" height="61"/><text class="t22" x="2056.8" y="1497" textLength="79" lengthAdjust="spacingAndGlyphs">L2 Cache</text></g>
<g id="rop6"><rect class="rop" x="2229.3" y="1458" width="134.4" height="61"/><text class="t22" x="2296.5" y="1497" textLength="37" lengthAdjust="spacingAndGlyphs">ROP</text></g>
<g id="l2-6"><rect class="lav" x="2393" y="1458" width="134" height="61"/><text class="t22" x="2460" y="1497" textLength="79" lengthAdjust="spacingAndGlyphs">L2 Cache</text></g>

<g id="dram1"><rect class="dram" x="190.3" y="1567" width="344" height="135"/><text class="t22" x="362.3" y="1643" textLength="52" lengthAdjust="spacingAndGlyphs">DRAM</text></g>
<g id="dram2"><rect class="dram" x="593.5" y="1567" width="344" height="135"/><text class="t22" x="765.5" y="1643" textLength="52" lengthAdjust="spacingAndGlyphs">DRAM</text></g>
<g id="dram3"><rect class="dram" x="996.7" y="1567" width="344" height="135"/><text class="t22" x="1168.7" y="1643" textLength="52" lengthAdjust="spacingAndGlyphs">DRAM</text></g>
<g id="dram4"><rect class="dram" x="1399.9" y="1567" width="344" height="135"/><text class="t22" x="1571.9" y="1643" textLength="52" lengthAdjust="spacingAndGlyphs">DRAM</text></g>
<g id="dram5"><rect class="dram" x="1803.1" y="1567" width="344" height="135"/><text class="t22" x="1975.1" y="1643" textLength="52" lengthAdjust="spacingAndGlyphs">DRAM</text></g>
<g id="dram6"><rect class="dram" x="2206.3" y="1567" width="344" height="135"/><text class="t22" x="2378.3" y="1643" textLength="52" lengthAdjust="spacingAndGlyphs">DRAM</text></g>
</svg>
